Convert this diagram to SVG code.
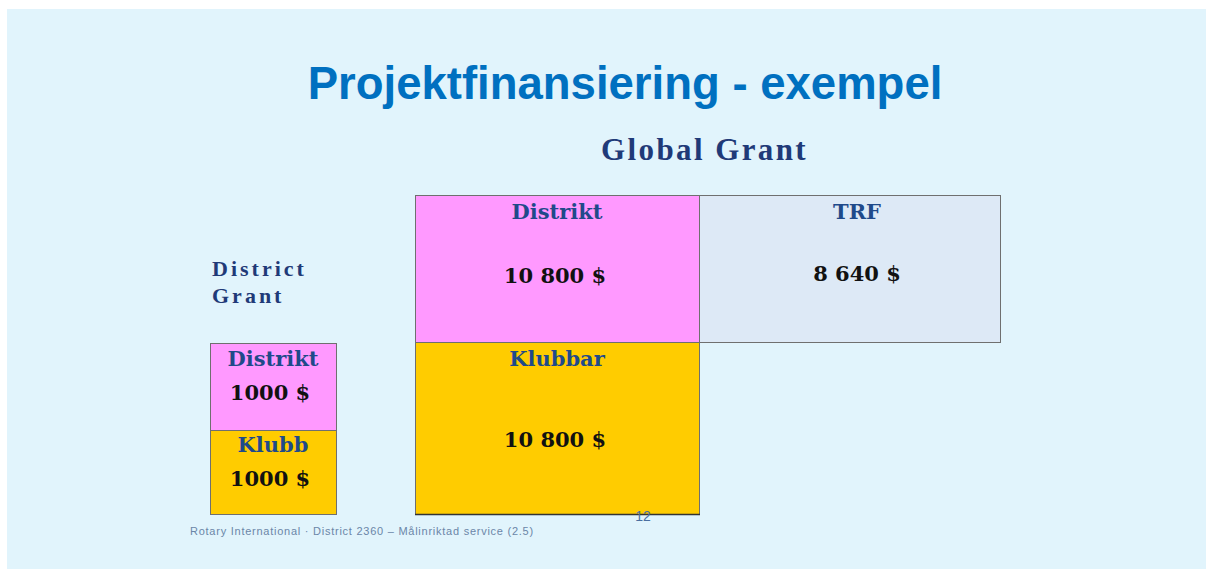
<svg xmlns="http://www.w3.org/2000/svg" width="1206" height="569" viewBox="0 0 1206 569">
<style>
.title{font-family:"Liberation Sans",Arial,sans-serif;font-weight:bold;font-size:45.5px;fill:#0070c0}
.head{font-family:"Liberation Serif","Times New Roman",serif;font-weight:bold;fill:#1f3a78}
.lbl{font-family:"DejaVu Serif",Georgia,serif;font-weight:bold;font-size:21px;fill:#1f4a8a}
.num{font-family:"DejaVu Serif",Georgia,serif;font-weight:bold;font-size:21px;fill:#111}
.box{stroke:#6f6f6f;stroke-width:1}
.pink{fill:#ff99ff}
.yel{fill:#ffcc00}
.trf{fill:#dde9f6}
.foot{font-family:"Liberation Sans",Arial,sans-serif;font-size:11px;letter-spacing:0.75px;fill:#6b86a8}
.page{font-family:"Liberation Sans",Arial,sans-serif;font-size:14px;fill:#4a6fa0}
</style>
<rect x="0" y="0" width="1206" height="569" fill="#ffffff"/>
<rect x="7" y="9" width="1199" height="560" fill="#e1f4fc"/>
<text class="title" x="625" y="99" text-anchor="middle">Projektfinansiering - exempel</text>
<text class="head" x="601" y="160" font-size="31" letter-spacing="2.4">Global Grant</text>
<text class="head" x="212" y="276" font-size="22" letter-spacing="3">District</text>
<text class="head" x="212" y="303" font-size="22" letter-spacing="3">Grant</text>

<g id="gg-distrikt">
<rect class="box pink" x="415.5" y="195.5" width="284" height="147"/>
<text class="lbl" x="557" y="219" text-anchor="middle">Distrikt</text>
<text class="num" x="555" y="283" text-anchor="middle">10 800 $</text>
</g>
<g id="gg-trf">
<rect class="box trf" x="699.5" y="195.5" width="301" height="147"/>
<text class="lbl" x="857" y="219" text-anchor="middle">TRF</text>
<text class="num" x="857" y="281" text-anchor="middle">8 640 $</text>
</g>
<g id="gg-klubbar">
<rect class="box yel" x="415.5" y="342.5" width="284" height="172"/>
<line x1="415" y1="514.5" x2="700" y2="514.5" stroke="#333" stroke-width="1.5"/>
<text class="lbl" x="557" y="366" text-anchor="middle">Klubbar</text>
<text class="num" x="555" y="447" text-anchor="middle">10 800 $</text>
</g>
<g id="dg-distrikt">
<rect class="box pink" x="210.5" y="343.5" width="126" height="87"/>
<text class="lbl" x="273" y="366" text-anchor="middle">Distrikt</text>
<text class="num" x="270" y="400" text-anchor="middle">1000 $</text>
</g>
<g id="dg-klubb">
<rect class="box yel" x="210.5" y="430.5" width="126" height="84"/>
<text class="lbl" x="273" y="452" text-anchor="middle">Klubb</text>
<text class="num" x="270" y="486" text-anchor="middle">1000 $</text>
</g>
<g id="connectors"/>
<text class="foot" x="190" y="535">Rotary International · District 2360 – Målinriktad service (2.5)</text>
<text class="page" x="643" y="521" text-anchor="middle">12</text>
</svg>
